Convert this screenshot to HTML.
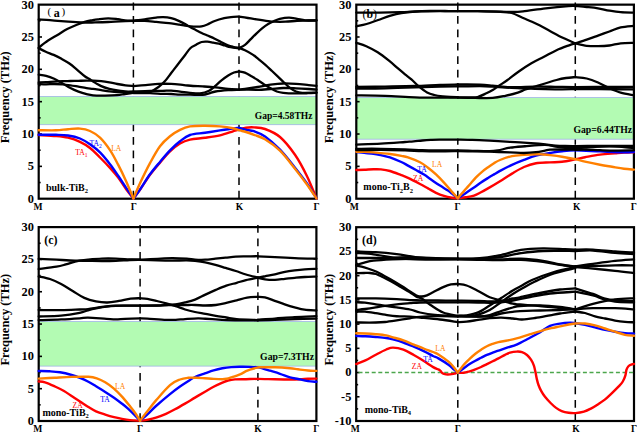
<!DOCTYPE html><html><head><meta charset="utf-8"><style>html,body{margin:0;padding:0;background:#fff;width:637px;height:432px;overflow:hidden}svg{display:block}text{font-family:"Liberation Serif",serif}</style></head><body>
<svg xmlns="http://www.w3.org/2000/svg" width="637" height="432" viewBox="0 0 637 432">
<rect width="637" height="432" fill="#fff"/>
<line x1="133.4" y1="2.55" x2="133.4" y2="198.7" stroke="#000" stroke-width="1.5" stroke-dasharray="7.7 5.75"/>
<line x1="239.0" y1="2.55" x2="239.0" y2="198.7" stroke="#000" stroke-width="1.5" stroke-dasharray="7.7 5.75"/>
<rect x="38.7" y="96.4" width="277.8" height="28.299999999999997" fill="#b3fbb3" stroke="#a0b4e6" stroke-width="0.8"/>
<rect x="38.7" y="4.65" width="277.80" height="194.05" fill="none" stroke="#000" stroke-width="2.2"/>
<line x1="38.7" y1="182.53" x2="40.65" y2="182.53" stroke="#000" stroke-width="1.6"/>
<line x1="38.7" y1="166.36" x2="42.00" y2="166.36" stroke="#000" stroke-width="1.6"/>
<line x1="38.7" y1="150.19" x2="40.65" y2="150.19" stroke="#000" stroke-width="1.6"/>
<line x1="38.7" y1="134.02" x2="42.00" y2="134.02" stroke="#000" stroke-width="1.6"/>
<line x1="38.7" y1="117.85" x2="40.65" y2="117.85" stroke="#000" stroke-width="1.6"/>
<line x1="38.7" y1="101.67" x2="42.00" y2="101.67" stroke="#000" stroke-width="1.6"/>
<line x1="38.7" y1="85.50" x2="40.65" y2="85.50" stroke="#000" stroke-width="1.6"/>
<line x1="38.7" y1="69.33" x2="42.00" y2="69.33" stroke="#000" stroke-width="1.6"/>
<line x1="38.7" y1="53.16" x2="40.65" y2="53.16" stroke="#000" stroke-width="1.6"/>
<line x1="38.7" y1="36.99" x2="42.00" y2="36.99" stroke="#000" stroke-width="1.6"/>
<line x1="38.7" y1="20.82" x2="40.65" y2="20.82" stroke="#000" stroke-width="1.6"/>
<path d="M38.70,135.00 C41.58,135.17 51.12,135.55 56.00,136.00 C60.88,136.45 64.00,136.72 68.00,137.70 C72.00,138.68 76.33,140.18 80.00,141.90 C83.67,143.62 86.67,145.40 90.00,148.00 C93.33,150.60 96.67,154.18 100.00,157.50 C103.33,160.82 107.00,164.60 110.00,167.90 C113.00,171.20 115.33,173.78 118.00,177.30 C120.67,180.82 123.43,185.47 126.00,189.00 C128.57,192.53 132.17,196.92 133.40,198.50" fill="none" stroke="#ff0000" stroke-width="2.4" stroke-linecap="round" stroke-linejoin="round"/>
<path d="M133.40,198.50 C134.50,197.05 137.23,193.75 140.00,189.80 C142.77,185.85 146.67,179.33 150.00,174.80 C153.33,170.27 156.67,166.50 160.00,162.60 C163.33,158.70 166.67,154.58 170.00,151.40 C173.33,148.22 176.67,145.47 180.00,143.50 C183.33,141.53 185.83,140.55 190.00,139.60 C194.17,138.65 200.00,138.52 205.00,137.80 C210.00,137.08 215.33,136.38 220.00,135.30 C224.67,134.22 229.83,132.27 233.00,131.30 C236.17,130.33 236.83,130.10 239.00,129.50 C241.17,128.90 243.50,128.05 246.00,127.70 C248.50,127.35 250.83,127.18 254.00,127.40 C257.17,127.62 260.67,127.40 265.00,129.00 C269.33,130.60 275.00,132.70 280.00,137.00 C285.00,141.30 290.50,148.27 295.00,154.80 C299.50,161.33 303.42,168.92 307.00,176.20 C310.58,183.48 314.92,194.78 316.50,198.50" fill="none" stroke="#ff0000" stroke-width="2.4" stroke-linecap="round" stroke-linejoin="round"/>
<path d="M38.70,134.80 C41.58,134.80 51.12,134.68 56.00,134.80 C60.88,134.92 64.00,134.88 68.00,135.50 C72.00,136.12 76.33,137.03 80.00,138.50 C83.67,139.97 86.67,141.98 90.00,144.30 C93.33,146.62 96.67,149.08 100.00,152.40 C103.33,155.72 107.00,160.35 110.00,164.20 C113.00,168.05 115.33,171.58 118.00,175.50 C120.67,179.42 123.43,183.87 126.00,187.70 C128.57,191.53 132.17,196.70 133.40,198.50" fill="none" stroke="#0000ff" stroke-width="2.4" stroke-linecap="round" stroke-linejoin="round"/>
<path d="M133.40,198.50 C134.50,197.02 137.23,193.63 140.00,189.60 C142.77,185.57 146.67,178.92 150.00,174.30 C153.33,169.68 156.67,165.88 160.00,161.90 C163.33,157.92 166.67,153.83 170.00,150.40 C173.33,146.97 176.67,143.87 180.00,141.30 C183.33,138.73 185.83,136.42 190.00,135.00 C194.17,133.58 200.00,133.57 205.00,132.80 C210.00,132.03 215.33,131.12 220.00,130.40 C224.67,129.68 229.83,128.90 233.00,128.50 C236.17,128.10 236.83,127.78 239.00,128.00 C241.17,128.22 243.50,129.27 246.00,129.80 C248.50,130.33 250.83,130.10 254.00,131.20 C257.17,132.30 260.67,133.32 265.00,136.40 C269.33,139.48 275.00,144.48 280.00,149.70 C285.00,154.92 290.50,162.07 295.00,167.70 C299.50,173.33 303.42,178.37 307.00,183.50 C310.58,188.63 314.92,196.00 316.50,198.50" fill="none" stroke="#0000ff" stroke-width="2.4" stroke-linecap="round" stroke-linejoin="round"/>
<path d="M38.70,130.20 C41.58,130.22 51.12,130.47 56.00,130.30 C60.88,130.13 64.00,129.48 68.00,129.20 C72.00,128.92 76.33,128.30 80.00,128.60 C83.67,128.90 86.67,129.50 90.00,131.00 C93.33,132.50 96.67,134.42 100.00,137.60 C103.33,140.78 107.00,145.63 110.00,150.10 C113.00,154.57 115.33,159.27 118.00,164.40 C120.67,169.53 123.43,175.22 126.00,180.90 C128.57,186.58 132.17,195.57 133.40,198.50" fill="none" stroke="#ff8000" stroke-width="2.4" stroke-linecap="round" stroke-linejoin="round"/>
<path d="M133.40,198.50 C134.50,195.95 137.23,189.10 140.00,183.20 C142.77,177.30 146.67,169.27 150.00,163.10 C153.33,156.93 156.67,150.68 160.00,146.20 C163.33,141.72 166.67,138.93 170.00,136.20 C173.33,133.47 176.67,131.43 180.00,129.80 C183.33,128.17 185.83,127.07 190.00,126.40 C194.17,125.73 200.00,125.80 205.00,125.80 C210.00,125.80 215.33,126.00 220.00,126.40 C224.67,126.80 229.83,127.57 233.00,128.20 C236.17,128.83 236.83,129.57 239.00,130.20 C241.17,130.83 243.50,131.23 246.00,132.00 C248.50,132.77 250.83,133.58 254.00,134.80 C257.17,136.02 260.67,136.65 265.00,139.30 C269.33,141.95 275.00,145.80 280.00,150.70 C285.00,155.60 290.50,163.07 295.00,168.70 C299.50,174.33 303.42,179.53 307.00,184.50 C310.58,189.47 314.92,196.17 316.50,198.50" fill="none" stroke="#ff8000" stroke-width="2.4" stroke-linecap="round" stroke-linejoin="round"/>
<path d="M38.70,47.60 C40.20,46.47 44.57,42.92 47.70,40.80 C50.83,38.68 54.25,36.85 57.50,34.90 C60.75,32.95 63.97,30.80 67.20,29.10 C70.43,27.40 73.98,25.90 76.90,24.70 C79.82,23.50 82.18,22.63 84.70,21.90 C87.22,21.17 89.78,20.73 92.00,20.30 C94.22,19.87 95.30,19.63 98.00,19.30 C100.70,18.97 104.87,18.32 108.20,18.30 C111.53,18.28 115.20,18.87 118.00,19.20 C120.80,19.53 122.43,20.03 125.00,20.30 C127.57,20.57 132.00,20.72 133.40,20.80" fill="none" stroke="#000" stroke-width="2.3" stroke-linecap="round" stroke-linejoin="round"/>
<path d="M38.70,19.50 C40.58,19.62 46.25,19.93 50.00,20.20 C53.75,20.47 57.40,20.82 61.20,21.10 C65.00,21.38 68.95,21.65 72.80,21.90 C76.65,22.15 80.60,22.52 84.30,22.60 C88.00,22.68 91.05,22.50 95.00,22.40 C98.95,22.30 103.83,22.17 108.00,22.00 C112.17,21.83 115.77,21.60 120.00,21.40 C124.23,21.20 131.17,20.90 133.40,20.80" fill="none" stroke="#000" stroke-width="2.3" stroke-linecap="round" stroke-linejoin="round"/>
<path d="M38.70,48.20 C39.88,48.80 43.30,50.68 45.80,51.80 C48.30,52.92 51.08,53.73 53.70,54.90 C56.32,56.07 58.88,57.37 61.50,58.80 C64.12,60.23 66.78,61.67 69.40,63.50 C72.02,65.33 74.58,67.63 77.20,69.80 C79.82,71.97 83.13,75.00 85.10,76.50 C87.07,78.00 87.67,77.95 89.00,78.80 C90.33,79.65 91.73,80.73 93.10,81.60 C94.47,82.47 95.85,83.25 97.20,84.00 C98.55,84.75 99.18,85.28 101.20,86.10 C103.22,86.92 106.60,88.17 109.30,88.90 C112.00,89.63 114.70,90.10 117.40,90.50 C120.10,90.90 122.83,91.10 125.50,91.30 C128.17,91.50 132.08,91.63 133.40,91.70" fill="none" stroke="#000" stroke-width="2.3" stroke-linecap="round" stroke-linejoin="round"/>
<path d="M38.70,74.70 C39.93,74.90 43.52,75.22 46.10,75.90 C48.68,76.58 51.50,77.58 54.20,78.80 C56.90,80.02 59.60,81.65 62.30,83.20 C65.00,84.75 67.70,86.68 70.40,88.10 C73.10,89.52 75.80,90.68 78.50,91.70 C81.20,92.72 84.18,93.58 86.60,94.20 C89.02,94.82 89.93,95.17 93.00,95.40 C96.07,95.63 101.00,95.63 105.00,95.60 C109.00,95.57 113.67,95.47 117.00,95.20 C120.33,94.93 122.27,94.40 125.00,94.00 C127.73,93.60 132.00,93.00 133.40,92.80" fill="none" stroke="#000" stroke-width="2.3" stroke-linecap="round" stroke-linejoin="round"/>
<path d="M38.70,82.40 C39.93,82.37 43.52,82.33 46.10,82.20 C48.68,82.07 51.50,81.77 54.20,81.60 C56.90,81.43 59.60,81.30 62.30,81.20 C65.00,81.10 67.70,81.07 70.40,81.00 C73.10,80.93 75.80,80.87 78.50,80.80 C81.20,80.73 84.17,80.63 86.60,80.60 C89.03,80.57 90.67,80.50 93.10,80.60 C95.53,80.70 98.50,80.90 101.20,81.20 C103.90,81.50 106.60,81.93 109.30,82.40 C112.00,82.87 114.70,83.52 117.40,84.00 C120.10,84.48 122.83,84.95 125.50,85.30 C128.17,85.65 132.08,85.97 133.40,86.10" fill="none" stroke="#000" stroke-width="2.3" stroke-linecap="round" stroke-linejoin="round"/>
<path d="M38.70,84.00 C39.93,84.05 43.52,84.30 46.10,84.30 C48.68,84.30 51.50,84.00 54.20,84.00 C56.90,84.00 59.60,84.08 62.30,84.30 C65.00,84.52 67.70,84.90 70.40,85.30 C73.10,85.70 75.80,86.23 78.50,86.70 C81.20,87.17 84.17,87.73 86.60,88.10 C89.03,88.47 90.67,88.57 93.10,88.90 C95.53,89.23 98.50,89.70 101.20,90.10 C103.90,90.50 106.60,90.97 109.30,91.30 C112.00,91.63 114.70,91.97 117.40,92.10 C120.10,92.23 122.83,92.15 125.50,92.10 C128.17,92.05 132.08,91.85 133.40,91.80" fill="none" stroke="#000" stroke-width="2.3" stroke-linecap="round" stroke-linejoin="round"/>
<path d="M133.40,20.60 C135.27,20.40 140.80,19.90 144.60,19.40 C148.40,18.90 153.12,17.98 156.20,17.60 C159.28,17.22 160.60,17.00 163.10,17.10 C165.60,17.20 168.50,17.53 171.20,18.20 C173.90,18.87 176.98,20.13 179.30,21.10 C181.62,22.07 183.17,22.93 185.10,24.00 C187.03,25.07 189.12,26.50 190.90,27.50 C192.68,28.50 194.02,29.08 195.80,30.00 C197.58,30.92 199.67,32.08 201.60,33.00 C203.53,33.92 205.22,34.55 207.40,35.50 C209.58,36.45 212.43,37.62 214.70,38.70 C216.97,39.78 218.80,40.90 221.00,42.00 C223.20,43.10 225.90,44.50 227.90,45.30 C229.90,46.10 231.15,46.37 233.00,46.80 C234.85,47.23 238.00,47.72 239.00,47.90" fill="none" stroke="#000" stroke-width="2.3" stroke-linecap="round" stroke-linejoin="round"/>
<path d="M133.40,20.80 C135.27,20.80 140.80,20.62 144.60,20.80 C148.40,20.98 153.12,21.60 156.20,21.90 C159.28,22.20 160.60,22.35 163.10,22.60 C165.60,22.85 168.50,23.07 171.20,23.40 C173.90,23.73 176.98,24.23 179.30,24.60 C181.62,24.97 183.17,25.30 185.10,25.60 C187.03,25.90 189.08,26.22 190.90,26.40 C192.72,26.58 194.22,26.70 196.00,26.70 C197.78,26.70 199.70,26.77 201.60,26.40 C203.50,26.03 205.22,25.40 207.40,24.50 C209.58,23.60 211.90,22.05 214.70,21.00 C217.50,19.95 221.48,18.85 224.20,18.20 C226.92,17.55 228.53,17.37 231.00,17.10 C233.47,16.83 237.67,16.68 239.00,16.60" fill="none" stroke="#000" stroke-width="2.3" stroke-linecap="round" stroke-linejoin="round"/>
<path d="M133.40,92.50 C135.33,92.52 142.30,92.63 145.00,92.60 C147.70,92.57 147.35,93.23 149.60,92.30 C151.85,91.37 155.97,88.83 158.50,87.00 C161.03,85.17 162.68,83.63 164.80,81.30 C166.92,78.97 169.07,75.77 171.20,73.00 C173.33,70.23 175.47,67.45 177.60,64.70 C179.73,61.95 181.88,59.25 184.00,56.50 C186.12,53.75 188.33,50.13 190.30,48.20 C192.27,46.27 193.92,45.93 195.80,44.90 C197.68,43.87 199.67,42.53 201.60,42.00 C203.53,41.47 205.47,41.60 207.40,41.70 C209.33,41.80 211.27,42.27 213.20,42.60 C215.13,42.93 217.07,43.22 219.00,43.70 C220.93,44.18 222.87,44.92 224.80,45.50 C226.73,46.08 228.23,46.72 230.60,47.20 C232.97,47.68 237.60,48.20 239.00,48.40" fill="none" stroke="#000" stroke-width="2.3" stroke-linecap="round" stroke-linejoin="round"/>
<path d="M133.40,86.10 C135.45,85.93 141.52,85.47 145.70,85.10 C149.88,84.73 154.25,84.10 158.50,83.90 C162.75,83.70 166.95,83.70 171.20,83.90 C175.45,84.10 180.37,84.75 184.00,85.10 C187.63,85.45 189.88,85.78 193.00,86.00 C196.12,86.22 198.95,86.18 202.70,86.40 C206.45,86.62 211.25,86.87 215.50,87.30 C219.75,87.73 224.28,88.62 228.20,89.00 C232.12,89.38 237.20,89.50 239.00,89.60" fill="none" stroke="#000" stroke-width="2.3" stroke-linecap="round" stroke-linejoin="round"/>
<path d="M133.40,91.50 C136.17,91.40 145.17,91.00 150.00,90.90 C154.83,90.80 158.87,90.95 162.40,90.90 C165.93,90.85 168.27,90.47 171.20,90.60 C174.13,90.73 176.87,91.33 180.00,91.70 C183.13,92.07 186.67,92.52 190.00,92.80 C193.33,93.08 196.82,93.73 200.00,93.40 C203.18,93.07 206.60,92.00 209.10,90.80 C211.60,89.60 212.88,87.97 215.00,86.20 C217.12,84.43 219.60,81.98 221.80,80.20 C224.00,78.42 226.17,76.78 228.20,75.50 C230.23,74.22 232.20,73.18 234.00,72.50 C235.80,71.82 238.17,71.58 239.00,71.40" fill="none" stroke="#000" stroke-width="2.3" stroke-linecap="round" stroke-linejoin="round"/>
<path d="M133.40,93.00 C136.17,93.03 145.17,93.07 150.00,93.20 C154.83,93.33 158.87,93.67 162.40,93.80 C165.93,93.93 168.27,93.87 171.20,94.00 C174.13,94.13 176.87,94.48 180.00,94.60 C183.13,94.72 186.22,94.65 190.00,94.70 C193.78,94.75 199.52,95.12 202.70,94.90 C205.88,94.68 206.97,93.97 209.10,93.40 C211.23,92.83 212.32,92.03 215.50,91.50 C218.68,90.97 224.28,90.48 228.20,90.20 C232.12,89.92 237.20,89.87 239.00,89.80" fill="none" stroke="#000" stroke-width="2.3" stroke-linecap="round" stroke-linejoin="round"/>
<path d="M239.00,16.60 C240.48,16.83 244.97,17.53 247.90,18.00 C250.83,18.47 253.22,18.88 256.60,19.40 C259.98,19.92 265.30,20.72 268.20,21.10 C271.10,21.48 271.10,21.60 274.00,21.70 C276.90,21.80 281.75,21.85 285.60,21.70 C289.45,21.55 293.25,21.00 297.10,20.80 C300.95,20.60 305.47,20.58 308.70,20.50 C311.93,20.42 315.20,20.33 316.50,20.30" fill="none" stroke="#000" stroke-width="2.3" stroke-linecap="round" stroke-linejoin="round"/>
<path d="M239.00,48.20 C240.00,47.65 243.03,46.42 245.00,44.90 C246.97,43.38 248.87,41.03 250.80,39.10 C252.73,37.17 254.67,35.13 256.60,33.30 C258.53,31.47 260.47,29.65 262.40,28.10 C264.33,26.55 266.27,25.17 268.20,24.00 C270.13,22.83 272.07,21.97 274.00,21.10 C275.93,20.23 277.30,19.38 279.80,18.80 C282.30,18.22 286.12,17.60 289.00,17.60 C291.88,17.60 294.38,18.35 297.10,18.80 C299.82,19.25 302.07,20.02 305.30,20.30 C308.53,20.58 314.63,20.47 316.50,20.50" fill="none" stroke="#000" stroke-width="2.3" stroke-linecap="round" stroke-linejoin="round"/>
<path d="M239.00,48.00 C240.00,48.38 242.72,49.20 245.00,50.30 C247.28,51.40 250.53,53.20 252.70,54.60 C254.87,56.00 255.88,57.00 258.00,58.70 C260.12,60.40 263.07,62.75 265.40,64.80 C267.73,66.85 269.87,68.98 272.00,71.00 C274.13,73.02 276.20,74.98 278.20,76.90 C280.20,78.82 282.10,80.72 284.00,82.50 C285.90,84.28 287.60,86.10 289.60,87.60 C291.60,89.10 293.88,90.63 296.00,91.50 C298.12,92.37 298.88,92.62 302.30,92.80 C305.72,92.98 314.13,92.63 316.50,92.60" fill="none" stroke="#000" stroke-width="2.3" stroke-linecap="round" stroke-linejoin="round"/>
<path d="M239.00,71.40 C239.97,71.60 242.73,71.78 244.80,72.60 C246.87,73.42 249.25,75.07 251.40,76.30 C253.55,77.53 255.58,78.63 257.70,80.00 C259.82,81.37 261.97,83.12 264.10,84.50 C266.23,85.88 268.38,87.13 270.50,88.30 C272.62,89.47 274.68,90.75 276.80,91.50 C278.92,92.25 280.00,92.48 283.20,92.80 C286.40,93.12 291.87,93.33 296.00,93.40 C300.13,93.47 304.58,93.30 308.00,93.20 C311.42,93.10 315.08,92.87 316.50,92.80" fill="none" stroke="#000" stroke-width="2.3" stroke-linecap="round" stroke-linejoin="round"/>
<path d="M239.00,89.80 C240.00,89.67 241.88,89.47 245.00,89.00 C248.12,88.53 253.45,87.72 257.70,87.00 C261.95,86.28 266.25,85.28 270.50,84.70 C274.75,84.12 278.95,83.63 283.20,83.50 C287.45,83.37 291.75,83.63 296.00,83.90 C300.25,84.17 305.28,84.78 308.70,85.10 C312.12,85.42 315.20,85.68 316.50,85.80" fill="none" stroke="#000" stroke-width="2.3" stroke-linecap="round" stroke-linejoin="round"/>
<path d="M239.00,89.60 C240.00,89.60 241.88,89.57 245.00,89.60 C248.12,89.63 253.45,89.90 257.70,89.80 C261.95,89.70 266.25,89.30 270.50,89.00 C274.75,88.70 278.95,88.12 283.20,88.00 C287.45,87.88 291.75,88.13 296.00,88.30 C300.25,88.47 305.28,88.78 308.70,89.00 C312.12,89.22 315.20,89.50 316.50,89.60" fill="none" stroke="#000" stroke-width="2.3" stroke-linecap="round" stroke-linejoin="round"/>
<text x="33.90" y="202.60" font-size="12.4" font-weight="bold" text-anchor="end">0</text>
<text x="33.90" y="170.26" font-size="12.4" font-weight="bold" text-anchor="end">5</text>
<text x="33.90" y="137.92" font-size="12.4" font-weight="bold" text-anchor="end">10</text>
<text x="33.90" y="105.58" font-size="12.4" font-weight="bold" text-anchor="end">15</text>
<text x="33.90" y="73.23" font-size="12.4" font-weight="bold" text-anchor="end">20</text>
<text x="33.90" y="40.89" font-size="12.4" font-weight="bold" text-anchor="end">25</text>
<text x="33.90" y="8.55" font-size="12.4" font-weight="bold" text-anchor="end">30</text>
<text x="37.95" y="209.60" font-size="9.6" font-weight="bold" text-anchor="middle">M</text>
<text x="133.80" y="209.60" font-size="9.6" font-weight="bold" text-anchor="middle">Γ</text>
<text x="239.50" y="209.60" font-size="9.6" font-weight="bold" text-anchor="middle">K</text>
<text x="316.50" y="209.60" font-size="9.6" font-weight="bold" text-anchor="middle">Γ</text>
<text transform="translate(9.2,97.27) rotate(-90)" font-size="12.5" font-weight="bold" text-anchor="middle">Frequency (THz)</text>
<line x1="457.8" y1="2.55" x2="457.8" y2="198.7" stroke="#000" stroke-width="1.5" stroke-dasharray="7.7 5.75"/>
<line x1="575.3" y1="2.55" x2="575.3" y2="198.7" stroke="#000" stroke-width="1.5" stroke-dasharray="7.7 5.75"/>
<rect x="356.3" y="97.6" width="277.59999999999997" height="41.599999999999994" fill="#b3fbb3" stroke="#a0b4e6" stroke-width="0.8"/>
<rect x="356.3" y="4.65" width="277.60" height="194.05" fill="none" stroke="#000" stroke-width="2.2"/>
<line x1="356.3" y1="182.53" x2="358.25" y2="182.53" stroke="#000" stroke-width="1.6"/>
<line x1="356.3" y1="166.36" x2="359.60" y2="166.36" stroke="#000" stroke-width="1.6"/>
<line x1="356.3" y1="150.19" x2="358.25" y2="150.19" stroke="#000" stroke-width="1.6"/>
<line x1="356.3" y1="134.02" x2="359.60" y2="134.02" stroke="#000" stroke-width="1.6"/>
<line x1="356.3" y1="117.85" x2="358.25" y2="117.85" stroke="#000" stroke-width="1.6"/>
<line x1="356.3" y1="101.67" x2="359.60" y2="101.67" stroke="#000" stroke-width="1.6"/>
<line x1="356.3" y1="85.50" x2="358.25" y2="85.50" stroke="#000" stroke-width="1.6"/>
<line x1="356.3" y1="69.33" x2="359.60" y2="69.33" stroke="#000" stroke-width="1.6"/>
<line x1="356.3" y1="53.16" x2="358.25" y2="53.16" stroke="#000" stroke-width="1.6"/>
<line x1="356.3" y1="36.99" x2="359.60" y2="36.99" stroke="#000" stroke-width="1.6"/>
<line x1="356.3" y1="20.82" x2="358.25" y2="20.82" stroke="#000" stroke-width="1.6"/>
<path d="M356.30,170.00 C357.63,169.97 361.43,169.92 364.30,169.80 C367.17,169.68 370.73,169.37 373.50,169.30 C376.27,169.23 378.15,169.12 380.90,169.40 C383.65,169.68 386.60,170.03 390.00,171.00 C393.40,171.97 398.30,174.05 401.30,175.20 C404.30,176.35 404.88,176.43 408.00,177.90 C411.12,179.37 416.67,182.25 420.00,184.00 C423.33,185.75 425.33,186.93 428.00,188.40 C430.67,189.87 433.33,191.55 436.00,192.80 C438.67,194.05 441.33,195.08 444.00,195.90 C446.67,196.72 449.70,197.30 452.00,197.70 C454.30,198.10 456.83,198.20 457.80,198.30" fill="none" stroke="#ff0000" stroke-width="2.4" stroke-linecap="round" stroke-linejoin="round"/>
<path d="M457.80,198.30 C459.17,198.13 463.30,197.75 466.00,197.30 C468.70,196.85 471.50,196.43 474.00,195.60 C476.50,194.77 478.67,193.50 481.00,192.30 C483.33,191.10 484.83,190.25 488.00,188.40 C491.17,186.55 496.00,183.67 500.00,181.20 C504.00,178.73 508.00,175.97 512.00,173.60 C516.00,171.23 520.00,168.72 524.00,167.00 C528.00,165.28 531.67,164.07 536.00,163.30 C540.33,162.53 545.67,162.65 550.00,162.40 C554.33,162.15 557.78,162.32 562.00,161.80 C566.22,161.28 571.47,160.05 575.30,159.30 C579.13,158.55 580.88,158.08 585.00,157.30 C589.12,156.52 595.00,155.27 600.00,154.60 C605.00,153.93 611.00,153.63 615.00,153.30 C619.00,152.97 620.85,152.78 624.00,152.60 C627.15,152.42 632.25,152.27 633.90,152.20" fill="none" stroke="#ff0000" stroke-width="2.4" stroke-linecap="round" stroke-linejoin="round"/>
<path d="M356.30,152.00 C357.63,152.15 361.43,152.60 364.30,152.90 C367.17,153.20 370.73,153.42 373.50,153.80 C376.27,154.18 378.15,154.60 380.90,155.20 C383.65,155.80 386.60,156.27 390.00,157.40 C393.40,158.53 398.30,160.63 401.30,162.00 C404.30,163.37 405.55,164.27 408.00,165.60 C410.45,166.93 413.33,168.50 416.00,170.00 C418.67,171.50 421.33,172.90 424.00,174.60 C426.67,176.30 429.33,178.37 432.00,180.20 C434.67,182.03 437.33,183.87 440.00,185.60 C442.67,187.33 446.00,189.27 448.00,190.60 C450.00,191.93 450.37,192.32 452.00,193.60 C453.63,194.88 456.83,197.52 457.80,198.30" fill="none" stroke="#0000ff" stroke-width="2.4" stroke-linecap="round" stroke-linejoin="round"/>
<path d="M457.80,198.30 C459.17,197.40 463.30,194.68 466.00,192.90 C468.70,191.12 471.50,189.33 474.00,187.60 C476.50,185.87 478.67,184.10 481.00,182.50 C483.33,180.90 485.83,179.35 488.00,178.00 C490.17,176.65 492.00,175.58 494.00,174.40 C496.00,173.22 497.00,172.50 500.00,170.90 C503.00,169.30 508.00,166.63 512.00,164.80 C516.00,162.97 520.00,161.42 524.00,159.90 C528.00,158.38 531.67,156.85 536.00,155.70 C540.33,154.55 545.67,153.75 550.00,153.00 C554.33,152.25 557.78,151.63 562.00,151.20 C566.22,150.77 568.97,150.37 575.30,150.40 C581.63,150.43 591.88,151.08 600.00,151.40 C608.12,151.72 618.35,152.20 624.00,152.30 C629.65,152.40 632.25,152.05 633.90,152.00" fill="none" stroke="#0000ff" stroke-width="2.4" stroke-linecap="round" stroke-linejoin="round"/>
<path d="M356.30,151.70 C357.63,151.73 361.43,151.78 364.30,151.90 C367.17,152.02 370.73,152.20 373.50,152.40 C376.27,152.60 378.15,152.83 380.90,153.10 C383.65,153.37 386.60,153.53 390.00,154.00 C393.40,154.47 398.30,155.33 401.30,155.90 C404.30,156.47 404.88,156.33 408.00,157.40 C411.12,158.47 416.67,160.58 420.00,162.30 C423.33,164.02 425.33,165.68 428.00,167.70 C430.67,169.72 433.33,171.92 436.00,174.40 C438.67,176.88 441.33,179.68 444.00,182.60 C446.67,185.52 449.70,189.28 452.00,191.90 C454.30,194.52 456.83,197.23 457.80,198.30" fill="none" stroke="#ff8000" stroke-width="2.4" stroke-linecap="round" stroke-linejoin="round"/>
<path d="M457.80,198.30 C458.50,197.47 460.63,194.88 462.00,193.30 C463.37,191.72 464.67,190.32 466.00,188.80 C467.33,187.28 468.33,186.10 470.00,184.20 C471.67,182.30 474.00,179.47 476.00,177.40 C478.00,175.33 480.00,173.48 482.00,171.80 C484.00,170.12 486.00,168.73 488.00,167.30 C490.00,165.87 492.00,164.42 494.00,163.20 C496.00,161.98 497.00,161.18 500.00,160.00 C503.00,158.82 508.00,156.95 512.00,156.10 C516.00,155.25 520.00,155.22 524.00,154.90 C528.00,154.58 532.83,154.27 536.00,154.20 C539.17,154.13 540.67,154.35 543.00,154.50 C545.33,154.65 546.83,154.73 550.00,155.10 C553.17,155.47 557.78,156.02 562.00,156.70 C566.22,157.38 571.47,158.37 575.30,159.20 C579.13,160.03 580.88,160.77 585.00,161.70 C589.12,162.63 595.50,163.95 600.00,164.80 C604.50,165.65 608.00,166.15 612.00,166.80 C616.00,167.45 620.35,168.23 624.00,168.70 C627.65,169.17 632.25,169.45 633.90,169.60" fill="none" stroke="#ff8000" stroke-width="2.4" stroke-linecap="round" stroke-linejoin="round"/>
<path d="M356.30,12.60 C360.25,12.60 372.72,12.67 380.00,12.60 C387.28,12.53 393.33,12.40 400.00,12.20 C406.67,12.00 413.33,11.58 420.00,11.40 C426.67,11.22 433.70,11.15 440.00,11.10 C446.30,11.05 454.83,11.10 457.80,11.10" fill="none" stroke="#000" stroke-width="2.3" stroke-linecap="round" stroke-linejoin="round"/>
<path d="M356.30,26.30 C358.02,25.92 362.95,25.05 366.60,24.00 C370.25,22.95 374.33,21.35 378.20,20.00 C382.07,18.65 385.93,17.07 389.80,15.90 C393.67,14.73 397.20,13.73 401.40,13.00 C405.60,12.27 410.23,11.85 415.00,11.50 C419.77,11.15 425.00,10.98 430.00,10.90 C435.00,10.82 440.37,10.97 445.00,11.00 C449.63,11.03 455.67,11.08 457.80,11.10" fill="none" stroke="#000" stroke-width="2.3" stroke-linecap="round" stroke-linejoin="round"/>
<path d="M356.30,42.80 C357.97,43.37 362.73,44.62 366.30,46.20 C369.87,47.78 373.92,49.88 377.70,52.30 C381.48,54.72 385.57,57.97 389.00,60.70 C392.43,63.43 395.63,66.43 398.30,68.70 C400.97,70.97 402.82,72.52 405.00,74.30 C407.18,76.08 409.15,77.43 411.40,79.40 C413.65,81.37 415.88,83.93 418.50,86.10 C421.12,88.27 424.45,90.92 427.10,92.40 C429.75,93.88 431.78,94.33 434.40,95.00 C437.02,95.67 440.20,96.07 442.80,96.40 C445.40,96.73 447.50,96.87 450.00,97.00 C452.50,97.13 456.50,97.17 457.80,97.20" fill="none" stroke="#000" stroke-width="2.3" stroke-linecap="round" stroke-linejoin="round"/>
<path d="M356.30,87.00 C361.08,86.93 375.22,86.77 385.00,86.60 C394.78,86.43 405.83,86.30 415.00,86.00 C424.17,85.70 432.87,85.05 440.00,84.80 C447.13,84.55 454.83,84.55 457.80,84.50" fill="none" stroke="#000" stroke-width="2.3" stroke-linecap="round" stroke-linejoin="round"/>
<path d="M356.30,88.60 C361.08,88.55 375.22,88.50 385.00,88.30 C394.78,88.10 405.83,87.68 415.00,87.40 C424.17,87.12 432.87,86.77 440.00,86.60 C447.13,86.43 454.83,86.43 457.80,86.40" fill="none" stroke="#000" stroke-width="2.3" stroke-linecap="round" stroke-linejoin="round"/>
<path d="M356.30,95.40 C361.08,95.48 375.22,95.58 385.00,95.90 C394.78,96.22 405.83,97.00 415.00,97.30 C424.17,97.60 432.87,97.65 440.00,97.70 C447.13,97.75 454.83,97.62 457.80,97.60" fill="none" stroke="#000" stroke-width="2.3" stroke-linecap="round" stroke-linejoin="round"/>
<path d="M457.80,11.10 C461.12,11.10 470.60,11.02 477.70,11.10 C484.80,11.18 494.73,11.45 500.40,11.60 C506.07,11.75 507.93,12.03 511.70,12.00 C515.47,11.97 517.33,12.02 523.00,11.40 C528.67,10.78 538.13,9.18 545.70,8.30 C553.27,7.42 563.47,6.48 568.40,6.10 C573.33,5.72 574.15,6.02 575.30,6.00" fill="none" stroke="#000" stroke-width="2.3" stroke-linecap="round" stroke-linejoin="round"/>
<path d="M457.80,11.10 C461.12,11.12 470.60,11.07 477.70,11.20 C484.80,11.33 494.73,11.60 500.40,11.90 C506.07,12.20 508.02,12.02 511.70,13.00 C515.38,13.98 519.12,16.33 522.50,17.80 C525.88,19.27 529.08,20.50 532.00,21.80 C534.92,23.10 536.95,24.03 540.00,25.60 C543.05,27.17 546.50,29.17 550.30,31.20 C554.10,33.23 558.63,35.78 562.80,37.80 C566.97,39.82 573.22,42.38 575.30,43.30" fill="none" stroke="#000" stroke-width="2.3" stroke-linecap="round" stroke-linejoin="round"/>
<path d="M457.80,97.40 C459.83,97.42 466.70,97.57 470.00,97.50 C473.30,97.43 474.87,97.70 477.60,97.00 C480.33,96.30 483.88,94.45 486.40,93.30 C488.92,92.15 490.60,91.37 492.70,90.10 C494.80,88.83 496.53,87.38 499.00,85.70 C501.47,84.02 504.20,82.37 507.50,80.00 C510.80,77.63 514.82,74.28 518.80,71.50 C522.78,68.72 527.20,65.75 531.40,63.30 C535.60,60.85 539.82,58.98 544.00,56.80 C548.18,54.62 552.32,52.12 556.50,50.20 C560.68,48.28 565.97,46.45 569.10,45.30 C572.23,44.15 574.27,43.63 575.30,43.30" fill="none" stroke="#000" stroke-width="2.3" stroke-linecap="round" stroke-linejoin="round"/>
<path d="M457.80,84.50 C461.50,84.52 474.18,84.42 480.00,84.60 C485.82,84.78 488.48,85.22 492.70,85.60 C496.92,85.98 501.12,86.63 505.30,86.90 C509.48,87.17 512.85,87.25 517.80,87.20 C522.75,87.15 528.80,86.67 535.00,86.60 C541.20,86.53 548.28,86.70 555.00,86.80 C561.72,86.90 571.92,87.13 575.30,87.20" fill="none" stroke="#000" stroke-width="2.3" stroke-linecap="round" stroke-linejoin="round"/>
<path d="M457.80,86.40 C461.50,86.35 474.18,86.07 480.00,86.10 C485.82,86.13 488.48,86.35 492.70,86.60 C496.92,86.85 501.12,87.37 505.30,87.60 C509.48,87.83 512.85,87.78 517.80,88.00 C522.75,88.22 528.80,88.68 535.00,88.90 C541.20,89.12 548.28,89.28 555.00,89.30 C561.72,89.32 571.92,89.05 575.30,89.00" fill="none" stroke="#000" stroke-width="2.3" stroke-linecap="round" stroke-linejoin="round"/>
<path d="M457.80,97.60 C460.67,97.65 469.18,97.85 475.00,97.90 C480.82,97.95 487.65,98.25 492.70,97.90 C497.75,97.55 501.12,96.68 505.30,95.80 C509.48,94.92 514.45,93.65 517.80,92.60 C521.15,91.55 522.53,90.52 525.40,89.50 C528.27,88.48 531.73,87.50 535.00,86.50 C538.27,85.50 541.42,84.58 545.00,83.50 C548.58,82.42 553.00,80.92 556.50,80.00 C560.00,79.08 562.87,78.48 566.00,78.00 C569.13,77.52 573.75,77.25 575.30,77.10" fill="none" stroke="#000" stroke-width="2.3" stroke-linecap="round" stroke-linejoin="round"/>
<path d="M575.30,6.00 C577.20,6.17 582.92,6.62 586.70,7.00 C590.48,7.38 594.22,7.70 598.00,8.30 C601.78,8.90 605.62,9.95 609.40,10.60 C613.18,11.25 616.62,11.85 620.70,12.20 C624.78,12.55 631.70,12.62 633.90,12.70" fill="none" stroke="#000" stroke-width="2.3" stroke-linecap="round" stroke-linejoin="round"/>
<path d="M575.30,43.30 C577.20,42.68 582.92,40.88 586.70,39.60 C590.48,38.32 594.22,36.95 598.00,35.60 C601.78,34.25 605.62,32.87 609.40,31.50 C613.18,30.13 616.62,28.35 620.70,27.40 C624.78,26.45 631.70,26.07 633.90,25.80" fill="none" stroke="#000" stroke-width="2.3" stroke-linecap="round" stroke-linejoin="round"/>
<path d="M575.30,43.30 C577.20,43.72 582.92,45.32 586.70,45.80 C590.48,46.28 594.22,46.25 598.00,46.20 C601.78,46.15 605.62,45.98 609.40,45.50 C613.18,45.02 616.62,43.75 620.70,43.30 C624.78,42.85 631.70,42.88 633.90,42.80" fill="none" stroke="#000" stroke-width="2.3" stroke-linecap="round" stroke-linejoin="round"/>
<path d="M575.30,77.10 C577.20,77.33 582.92,77.60 586.70,78.50 C590.48,79.40 594.22,80.88 598.00,82.50 C601.78,84.12 605.62,86.50 609.40,88.20 C613.18,89.90 616.62,91.50 620.70,92.70 C624.78,93.90 631.70,94.95 633.90,95.40" fill="none" stroke="#000" stroke-width="2.3" stroke-linecap="round" stroke-linejoin="round"/>
<path d="M575.30,87.20 C579.42,87.17 590.23,87.03 600.00,87.00 C609.77,86.97 628.25,87.00 633.90,87.00" fill="none" stroke="#000" stroke-width="2.3" stroke-linecap="round" stroke-linejoin="round"/>
<path d="M575.30,89.00 C579.42,89.03 590.23,89.15 600.00,89.20 C609.77,89.25 628.25,89.28 633.90,89.30" fill="none" stroke="#000" stroke-width="2.3" stroke-linecap="round" stroke-linejoin="round"/>
<path d="M356.30,144.60 C360.40,144.43 372.78,144.03 380.90,143.60 C389.02,143.17 399.55,142.37 405.00,142.00 C410.45,141.63 410.72,141.65 413.60,141.40 C416.48,141.15 419.42,140.75 422.30,140.50 C425.18,140.25 428.03,140.05 430.90,139.90 C433.77,139.75 435.02,139.65 439.50,139.60 C443.98,139.55 454.75,139.60 457.80,139.60" fill="none" stroke="#000" stroke-width="2.3" stroke-linecap="round" stroke-linejoin="round"/>
<path d="M356.30,148.80 C360.40,148.80 372.78,148.72 380.90,148.80 C389.02,148.88 398.10,149.07 405.00,149.30 C411.90,149.53 416.55,150.02 422.30,150.20 C428.05,150.38 433.58,150.38 439.50,150.40 C445.42,150.42 454.75,150.32 457.80,150.30" fill="none" stroke="#000" stroke-width="2.3" stroke-linecap="round" stroke-linejoin="round"/>
<path d="M356.30,150.10 C360.40,150.05 372.78,149.75 380.90,149.80 C389.02,149.85 398.10,150.17 405.00,150.40 C411.90,150.63 416.55,151.03 422.30,151.20 C428.05,151.37 433.58,151.42 439.50,151.40 C445.42,151.38 454.75,151.15 457.80,151.10" fill="none" stroke="#000" stroke-width="2.3" stroke-linecap="round" stroke-linejoin="round"/>
<path d="M457.80,139.60 C460.22,139.65 467.02,139.72 472.30,139.90 C477.58,140.08 483.22,140.37 489.50,140.70 C495.78,141.03 504.92,141.63 510.00,141.90 C515.08,142.17 515.83,142.05 520.00,142.30 C524.17,142.55 530.83,143.05 535.00,143.40 C539.17,143.75 541.55,144.03 545.00,144.40 C548.45,144.77 552.37,145.33 555.70,145.60 C559.03,145.87 561.73,145.92 565.00,146.00 C568.27,146.08 573.58,146.08 575.30,146.10" fill="none" stroke="#000" stroke-width="2.3" stroke-linecap="round" stroke-linejoin="round"/>
<path d="M457.80,150.40 C460.22,150.47 467.02,150.67 472.30,150.80 C477.58,150.93 485.22,151.27 489.50,151.20 C493.78,151.13 494.58,150.98 498.00,150.40 C501.42,149.82 505.50,148.39 510.00,147.70 C514.50,147.01 519.17,146.72 525.00,146.25 C530.83,145.78 539.88,144.84 545.00,144.90 C550.12,144.96 552.37,146.12 555.70,146.60 C559.03,147.08 561.73,147.53 565.00,147.80 C568.27,148.07 573.58,148.13 575.30,148.20" fill="none" stroke="#000" stroke-width="2.3" stroke-linecap="round" stroke-linejoin="round"/>
<path d="M457.80,151.10 C460.22,151.13 467.02,151.20 472.30,151.30 C477.58,151.40 483.22,151.52 489.50,151.70 C495.78,151.88 504.25,152.18 510.00,152.40 C515.75,152.62 519.67,153.03 524.00,153.00 C528.33,152.97 532.50,152.60 536.00,152.20 C539.50,151.80 542.67,151.02 545.00,150.60 C547.33,150.18 547.17,149.88 550.00,149.70 C552.83,149.52 557.78,149.52 562.00,149.50 C566.22,149.48 573.08,149.58 575.30,149.60" fill="none" stroke="#000" stroke-width="2.3" stroke-linecap="round" stroke-linejoin="round"/>
<path d="M575.30,146.10 C577.75,146.08 584.22,146.02 590.00,146.00 C595.78,145.98 602.68,146.03 610.00,146.00 C617.32,145.97 629.92,145.83 633.90,145.80" fill="none" stroke="#000" stroke-width="2.3" stroke-linecap="round" stroke-linejoin="round"/>
<path d="M575.30,148.20 C576.92,148.10 581.72,147.83 585.00,147.60 C588.28,147.37 590.83,147.00 595.00,146.80 C599.17,146.60 605.50,146.38 610.00,146.40 C614.50,146.42 618.02,146.60 622.00,146.90 C625.98,147.20 631.92,147.98 633.90,148.20" fill="none" stroke="#000" stroke-width="2.3" stroke-linecap="round" stroke-linejoin="round"/>
<path d="M575.30,149.80 C576.92,149.77 580.88,149.53 585.00,149.60 C589.12,149.67 595.00,150.03 600.00,150.20 C605.00,150.37 609.35,150.57 615.00,150.60 C620.65,150.63 630.75,150.43 633.90,150.40" fill="none" stroke="#000" stroke-width="2.3" stroke-linecap="round" stroke-linejoin="round"/>
<text x="351.50" y="202.60" font-size="12.4" font-weight="bold" text-anchor="end">0</text>
<text x="351.50" y="170.26" font-size="12.4" font-weight="bold" text-anchor="end">5</text>
<text x="351.50" y="137.92" font-size="12.4" font-weight="bold" text-anchor="end">10</text>
<text x="351.50" y="105.58" font-size="12.4" font-weight="bold" text-anchor="end">15</text>
<text x="351.50" y="73.23" font-size="12.4" font-weight="bold" text-anchor="end">20</text>
<text x="351.50" y="40.89" font-size="12.4" font-weight="bold" text-anchor="end">25</text>
<text x="351.50" y="8.55" font-size="12.4" font-weight="bold" text-anchor="end">30</text>
<text x="354.20" y="209.60" font-size="9.6" font-weight="bold" text-anchor="middle">M</text>
<text x="457.65" y="209.60" font-size="9.6" font-weight="bold" text-anchor="middle">Γ</text>
<text x="576.70" y="209.60" font-size="9.6" font-weight="bold" text-anchor="middle">K</text>
<text x="633.90" y="209.60" font-size="9.6" font-weight="bold" text-anchor="middle">Γ</text>
<text transform="translate(332.8,97.27) rotate(-90)" font-size="12.5" font-weight="bold" text-anchor="middle">Frequency (THz)</text>
<line x1="140.1" y1="225.00" x2="140.1" y2="421.0" stroke="#000" stroke-width="1.5" stroke-dasharray="7.7 5.75"/>
<line x1="257.9" y1="225.00" x2="257.9" y2="421.0" stroke="#000" stroke-width="1.5" stroke-dasharray="7.7 5.75"/>
<rect x="38.7" y="321.6" width="277.7" height="44.5" fill="#b3fbb3" stroke="#a0b4e6" stroke-width="0.8"/>
<rect x="38.7" y="227.1" width="277.70" height="193.90" fill="none" stroke="#000" stroke-width="2.2"/>
<line x1="38.7" y1="404.84" x2="40.65" y2="404.84" stroke="#000" stroke-width="1.6"/>
<line x1="38.7" y1="388.68" x2="42.00" y2="388.68" stroke="#000" stroke-width="1.6"/>
<line x1="38.7" y1="372.52" x2="40.65" y2="372.52" stroke="#000" stroke-width="1.6"/>
<line x1="38.7" y1="356.37" x2="42.00" y2="356.37" stroke="#000" stroke-width="1.6"/>
<line x1="38.7" y1="340.21" x2="40.65" y2="340.21" stroke="#000" stroke-width="1.6"/>
<line x1="38.7" y1="324.05" x2="42.00" y2="324.05" stroke="#000" stroke-width="1.6"/>
<line x1="38.7" y1="307.89" x2="40.65" y2="307.89" stroke="#000" stroke-width="1.6"/>
<line x1="38.7" y1="291.73" x2="42.00" y2="291.73" stroke="#000" stroke-width="1.6"/>
<line x1="38.7" y1="275.57" x2="40.65" y2="275.57" stroke="#000" stroke-width="1.6"/>
<line x1="38.7" y1="259.42" x2="42.00" y2="259.42" stroke="#000" stroke-width="1.6"/>
<line x1="38.7" y1="243.26" x2="40.65" y2="243.26" stroke="#000" stroke-width="1.6"/>
<path d="M38.70,381.50 C39.75,381.63 42.28,381.47 45.00,382.30 C47.72,383.13 51.83,385.05 55.00,386.50 C58.17,387.95 61.17,389.37 64.00,391.00 C66.83,392.63 69.33,394.55 72.00,396.30 C74.67,398.05 77.27,399.72 80.00,401.50 C82.73,403.28 85.73,405.37 88.40,407.00 C91.07,408.63 93.20,410.03 96.00,411.30 C98.80,412.57 102.20,413.62 105.20,414.60 C108.20,415.58 111.20,416.48 114.00,417.20 C116.80,417.92 119.33,418.42 122.00,418.90 C124.67,419.38 126.98,419.78 130.00,420.10 C133.02,420.42 138.42,420.68 140.10,420.80" fill="none" stroke="#ff0000" stroke-width="2.4" stroke-linecap="round" stroke-linejoin="round"/>
<path d="M140.10,420.80 C141.42,420.60 145.35,420.13 148.00,419.60 C150.65,419.07 153.00,418.57 156.00,417.60 C159.00,416.63 162.83,415.18 166.00,413.80 C169.17,412.42 171.83,411.00 175.00,409.30 C178.17,407.60 181.67,405.55 185.00,403.60 C188.33,401.65 191.67,399.58 195.00,397.60 C198.33,395.62 201.90,393.50 205.00,391.70 C208.10,389.90 210.70,388.32 213.60,386.80 C216.50,385.28 220.00,383.65 222.40,382.60 C224.80,381.55 225.90,381.03 228.00,380.50 C230.10,379.97 232.00,379.62 235.00,379.40 C238.00,379.18 242.17,379.28 246.00,379.20 C249.83,379.12 253.17,378.88 258.00,378.90 C262.83,378.92 269.67,379.20 275.00,379.30 C280.33,379.40 285.83,379.50 290.00,379.50 C294.17,379.50 297.00,379.42 300.00,379.30 C303.00,379.18 305.27,378.92 308.00,378.80 C310.73,378.68 315.00,378.63 316.40,378.60" fill="none" stroke="#ff0000" stroke-width="2.4" stroke-linecap="round" stroke-linejoin="round"/>
<path d="M38.70,371.00 C40.58,371.05 46.45,371.08 50.00,371.30 C53.55,371.52 56.40,371.68 60.00,372.30 C63.60,372.92 68.27,374.07 71.60,375.00 C74.93,375.93 77.20,376.77 80.00,377.90 C82.80,379.03 85.73,380.40 88.40,381.80 C91.07,383.20 93.20,384.62 96.00,386.30 C98.80,387.98 102.20,390.00 105.20,391.90 C108.20,393.80 111.20,395.73 114.00,397.70 C116.80,399.67 119.67,401.88 122.00,403.70 C124.33,405.52 126.00,406.82 128.00,408.60 C130.00,410.38 131.98,412.37 134.00,414.40 C136.02,416.43 139.08,419.73 140.10,420.80" fill="none" stroke="#0000ff" stroke-width="2.4" stroke-linecap="round" stroke-linejoin="round"/>
<path d="M140.10,420.80 C141.42,419.63 145.35,416.27 148.00,413.80 C150.65,411.33 152.33,409.28 156.00,406.00 C159.67,402.72 166.00,397.35 170.00,394.10 C174.00,390.85 176.67,388.87 180.00,386.50 C183.33,384.13 187.33,381.57 190.00,379.90 C192.67,378.23 193.53,377.58 196.00,376.50 C198.47,375.42 201.87,374.42 204.80,373.40 C207.73,372.38 210.67,371.25 213.60,370.40 C216.53,369.55 219.47,368.85 222.40,368.30 C225.33,367.75 228.27,367.35 231.20,367.10 C234.13,366.85 236.87,366.83 240.00,366.80 C243.13,366.77 247.00,366.80 250.00,366.90 C253.00,367.00 255.83,367.12 258.00,367.40 C260.17,367.68 261.00,368.05 263.00,368.60 C265.00,369.15 267.17,369.83 270.00,370.70 C272.83,371.57 276.67,372.70 280.00,373.80 C283.33,374.90 287.00,376.43 290.00,377.30 C293.00,378.17 295.00,378.37 298.00,379.00 C301.00,379.63 304.93,380.63 308.00,381.10 C311.07,381.57 315.00,381.68 316.40,381.80" fill="none" stroke="#0000ff" stroke-width="2.4" stroke-linecap="round" stroke-linejoin="round"/>
<path d="M38.70,378.60 C41.38,378.45 49.32,377.98 54.80,377.70 C60.28,377.42 66.00,377.05 71.60,376.90 C77.20,376.75 84.20,376.57 88.40,376.80 C92.60,377.03 94.00,377.38 96.80,378.30 C99.60,379.22 102.40,380.62 105.20,382.30 C108.00,383.98 110.80,386.02 113.60,388.40 C116.40,390.78 119.20,393.53 122.00,396.60 C124.80,399.67 128.15,403.98 130.40,406.80 C132.65,409.62 133.88,411.17 135.50,413.50 C137.12,415.83 139.33,419.58 140.10,420.80" fill="none" stroke="#ff8000" stroke-width="2.4" stroke-linecap="round" stroke-linejoin="round"/>
<path d="M140.10,420.80 C140.75,419.92 142.68,417.22 144.00,415.50 C145.32,413.78 146.00,413.02 148.00,410.50 C150.00,407.98 152.33,404.63 156.00,400.40 C159.67,396.17 166.00,388.58 170.00,385.10 C174.00,381.62 177.00,380.72 180.00,379.50 C183.00,378.28 185.33,378.08 188.00,377.80 C190.67,377.52 193.20,377.72 196.00,377.80 C198.80,377.88 201.87,378.12 204.80,378.30 C207.73,378.48 210.67,378.75 213.60,378.90 C216.53,379.05 220.20,379.23 222.40,379.20 C224.60,379.17 225.33,379.00 226.80,378.70 C228.27,378.40 229.00,378.13 231.20,377.40 C233.40,376.67 237.53,375.33 240.00,374.30 C242.47,373.27 244.33,371.98 246.00,371.20 C247.67,370.42 248.33,370.15 250.00,369.60 C251.67,369.05 254.33,368.28 256.00,367.90 C257.67,367.52 256.83,367.40 260.00,367.30 C263.17,367.20 270.00,367.14 275.00,367.30 C280.00,367.46 286.17,367.92 290.00,368.25 C293.83,368.58 295.00,368.93 298.00,369.30 C301.00,369.68 304.93,370.23 308.00,370.50 C311.07,370.77 315.00,370.83 316.40,370.90" fill="none" stroke="#ff8000" stroke-width="2.4" stroke-linecap="round" stroke-linejoin="round"/>
<path d="M38.70,258.80 C41.67,258.95 50.45,259.40 56.50,259.70 C62.55,260.00 69.75,260.42 75.00,260.60 C80.25,260.78 83.52,260.73 88.00,260.80 C92.48,260.87 97.27,261.00 101.90,261.00 C106.53,261.00 111.17,260.97 115.80,260.80 C120.43,260.63 125.65,260.18 129.70,260.00 C133.75,259.82 138.37,259.75 140.10,259.70" fill="none" stroke="#000" stroke-width="2.3" stroke-linecap="round" stroke-linejoin="round"/>
<path d="M38.70,269.00 C41.67,268.62 51.98,267.47 56.50,266.70 C61.02,265.93 62.72,265.25 65.80,264.40 C68.88,263.55 72.68,262.23 75.00,261.60 C77.32,260.97 77.53,260.93 79.70,260.60 C81.87,260.27 84.30,259.93 88.00,259.60 C91.70,259.27 97.27,258.77 101.90,258.60 C106.53,258.43 111.17,258.48 115.80,258.60 C120.43,258.72 125.65,259.12 129.70,259.30 C133.75,259.48 138.37,259.63 140.10,259.70" fill="none" stroke="#000" stroke-width="2.3" stroke-linecap="round" stroke-linejoin="round"/>
<path d="M38.70,276.40 C40.58,276.83 46.27,277.73 50.00,279.00 C53.73,280.27 57.32,282.00 61.10,284.00 C64.88,286.00 68.83,288.68 72.70,291.00 C76.57,293.32 80.43,296.17 84.30,297.90 C88.17,299.63 92.05,300.63 95.90,301.40 C99.75,302.17 103.55,302.58 107.40,302.50 C111.25,302.42 115.13,301.55 119.00,300.90 C122.87,300.25 127.08,299.05 130.60,298.60 C134.12,298.15 138.52,298.27 140.10,298.20" fill="none" stroke="#000" stroke-width="2.3" stroke-linecap="round" stroke-linejoin="round"/>
<path d="M38.70,310.00 C42.43,310.03 54.27,310.28 61.10,310.20 C67.93,310.12 75.22,309.68 79.70,309.50 C84.18,309.32 85.07,309.40 88.00,309.10 C90.93,308.80 94.22,308.17 97.30,307.70 C100.38,307.23 103.42,306.65 106.50,306.30 C109.58,305.95 112.72,305.72 115.80,305.60 C118.88,305.48 120.95,305.60 125.00,305.60 C129.05,305.60 137.58,305.60 140.10,305.60" fill="none" stroke="#000" stroke-width="2.3" stroke-linecap="round" stroke-linejoin="round"/>
<path d="M38.70,316.50 C42.43,316.35 54.27,316.22 61.10,315.60 C67.93,314.98 75.22,313.68 79.70,312.80 C84.18,311.92 85.07,311.07 88.00,310.30 C90.93,309.53 94.22,308.82 97.30,308.20 C100.38,307.58 103.42,307.00 106.50,306.60 C109.58,306.20 112.72,305.97 115.80,305.80 C118.88,305.63 120.95,305.63 125.00,305.60 C129.05,305.57 137.58,305.60 140.10,305.60" fill="none" stroke="#000" stroke-width="2.3" stroke-linecap="round" stroke-linejoin="round"/>
<path d="M38.70,320.20 C42.43,320.07 54.27,319.72 61.10,319.40 C67.93,319.08 75.22,318.60 79.70,318.30 C84.18,318.00 83.53,317.52 88.00,317.60 C92.47,317.68 101.87,318.52 106.50,318.80 C111.13,319.08 112.72,319.30 115.80,319.30 C118.88,319.30 120.95,318.97 125.00,318.80 C129.05,318.63 137.58,318.38 140.10,318.30" fill="none" stroke="#000" stroke-width="2.3" stroke-linecap="round" stroke-linejoin="round"/>
<path d="M140.10,259.80 C143.00,259.63 152.17,259.07 157.50,258.80 C162.83,258.53 167.23,258.22 172.10,258.20 C176.97,258.18 182.88,258.47 186.70,258.70 C190.52,258.93 191.92,259.43 195.00,259.60 C198.08,259.77 201.80,259.85 205.20,259.70 C208.60,259.55 212.00,259.03 215.40,258.70 C218.80,258.37 222.20,258.03 225.60,257.70 C229.00,257.37 232.40,256.92 235.80,256.70 C239.20,256.48 242.32,256.48 246.00,256.40 C249.68,256.32 255.92,256.23 257.90,256.20" fill="none" stroke="#000" stroke-width="2.3" stroke-linecap="round" stroke-linejoin="round"/>
<path d="M140.10,259.80 C143.00,259.90 152.17,260.27 157.50,260.40 C162.83,260.53 167.23,260.60 172.10,260.60 C176.97,260.60 182.88,260.35 186.70,260.40 C190.52,260.45 191.92,260.58 195.00,260.90 C198.08,261.22 201.80,261.65 205.20,262.30 C208.60,262.95 212.00,263.87 215.40,264.80 C218.80,265.73 222.20,266.87 225.60,267.90 C229.00,268.93 232.40,269.90 235.80,271.00 C239.20,272.10 242.32,273.40 246.00,274.50 C249.68,275.60 255.92,277.08 257.90,277.60" fill="none" stroke="#000" stroke-width="2.3" stroke-linecap="round" stroke-linejoin="round"/>
<path d="M140.10,298.20 C141.32,298.32 144.62,298.43 147.40,298.90 C150.18,299.37 153.67,300.25 156.80,301.00 C159.93,301.75 163.05,302.53 166.20,303.40 C169.35,304.27 172.55,305.18 175.70,306.20 C178.85,307.22 181.88,308.53 185.10,309.50 C188.32,310.47 191.62,311.27 195.00,312.00 C198.38,312.73 201.93,313.25 205.40,313.90 C208.87,314.55 212.32,315.30 215.80,315.90 C219.28,316.50 222.82,316.97 226.30,317.50 C229.78,318.03 231.43,318.67 236.70,319.10 C241.97,319.53 254.37,319.93 257.90,320.10" fill="none" stroke="#000" stroke-width="2.3" stroke-linecap="round" stroke-linejoin="round"/>
<path d="M140.10,305.60 C142.88,305.62 152.45,305.77 156.80,305.70 C161.15,305.63 163.05,305.32 166.20,305.20 C169.35,305.08 172.55,305.03 175.70,305.00 C178.85,304.97 181.88,305.00 185.10,305.00 C188.32,305.00 191.62,304.92 195.00,305.00 C198.38,305.08 201.93,305.50 205.40,305.50 C208.87,305.50 212.32,305.43 215.80,305.00 C219.28,304.57 222.82,303.68 226.30,302.90 C229.78,302.12 233.23,301.17 236.70,300.30 C240.17,299.43 243.57,298.28 247.10,297.70 C250.63,297.12 256.10,296.95 257.90,296.80" fill="none" stroke="#000" stroke-width="2.3" stroke-linecap="round" stroke-linejoin="round"/>
<path d="M140.10,305.60 C142.88,305.58 152.45,305.60 156.80,305.50 C161.15,305.40 163.05,305.20 166.20,305.00 C169.35,304.80 172.55,304.73 175.70,304.30 C178.85,303.87 181.88,303.18 185.10,302.40 C188.32,301.62 191.62,300.90 195.00,299.60 C198.38,298.30 201.93,296.22 205.40,294.60 C208.87,292.98 212.32,291.38 215.80,289.90 C219.28,288.42 222.82,286.88 226.30,285.70 C229.78,284.52 233.42,283.73 236.70,282.80 C239.98,281.87 242.47,280.97 246.00,280.10 C249.53,279.23 255.92,278.02 257.90,277.60" fill="none" stroke="#000" stroke-width="2.3" stroke-linecap="round" stroke-linejoin="round"/>
<path d="M140.10,318.30 C141.32,318.35 143.05,318.35 147.40,318.60 C151.75,318.85 161.48,319.60 166.20,319.80 C170.92,320.00 172.55,319.92 175.70,319.80 C178.85,319.68 181.38,319.33 185.10,319.10 C188.82,318.87 194.62,318.46 198.00,318.40 C201.38,318.34 202.43,318.58 205.40,318.75 C208.37,318.92 212.32,319.17 215.80,319.40 C219.28,319.62 219.28,319.93 226.30,320.10 C233.32,320.27 252.63,320.35 257.90,320.40" fill="none" stroke="#000" stroke-width="2.3" stroke-linecap="round" stroke-linejoin="round"/>
<path d="M257.90,256.40 C260.73,256.52 268.75,256.82 274.90,257.10 C281.05,257.38 288.50,257.83 294.80,258.10 C301.10,258.37 309.10,258.60 312.70,258.70 C316.30,258.80 315.78,258.70 316.40,258.70" fill="none" stroke="#000" stroke-width="2.3" stroke-linecap="round" stroke-linejoin="round"/>
<path d="M257.90,277.70 C259.08,277.47 262.17,276.85 265.00,276.30 C267.83,275.75 271.58,275.13 274.90,274.40 C278.22,273.67 281.58,272.57 284.90,271.90 C288.22,271.23 291.48,270.82 294.80,270.40 C298.12,269.98 301.20,269.65 304.80,269.40 C308.40,269.15 314.47,268.98 316.40,268.90" fill="none" stroke="#000" stroke-width="2.3" stroke-linecap="round" stroke-linejoin="round"/>
<path d="M257.90,277.70 C259.08,277.97 262.17,278.95 265.00,279.30 C267.83,279.65 271.58,279.88 274.90,279.80 C278.22,279.72 281.58,279.13 284.90,278.80 C288.22,278.47 291.48,278.10 294.80,277.80 C298.12,277.50 301.20,277.20 304.80,277.00 C308.40,276.80 314.47,276.67 316.40,276.60" fill="none" stroke="#000" stroke-width="2.3" stroke-linecap="round" stroke-linejoin="round"/>
<path d="M257.90,296.80 C259.07,296.90 262.08,296.73 264.90,297.40 C267.72,298.07 271.50,299.65 274.80,300.80 C278.10,301.95 281.40,303.22 284.70,304.30 C288.00,305.38 291.30,306.40 294.60,307.30 C297.90,308.20 300.87,309.17 304.50,309.70 C308.13,310.23 314.42,310.37 316.40,310.50" fill="none" stroke="#000" stroke-width="2.3" stroke-linecap="round" stroke-linejoin="round"/>
<path d="M257.90,319.60 C260.72,319.43 268.68,319.02 274.80,318.60 C280.92,318.18 287.67,317.50 294.60,317.10 C301.53,316.70 312.77,316.35 316.40,316.20" fill="none" stroke="#000" stroke-width="2.3" stroke-linecap="round" stroke-linejoin="round"/>
<path d="M257.90,320.40 C260.72,320.30 268.68,320.02 274.80,319.80 C280.92,319.58 287.67,319.30 294.60,319.10 C301.53,318.90 312.77,318.68 316.40,318.60" fill="none" stroke="#000" stroke-width="2.3" stroke-linecap="round" stroke-linejoin="round"/>
<text x="33.90" y="424.90" font-size="12.4" font-weight="bold" text-anchor="end">0</text>
<text x="33.90" y="392.58" font-size="12.4" font-weight="bold" text-anchor="end">5</text>
<text x="33.90" y="360.27" font-size="12.4" font-weight="bold" text-anchor="end">10</text>
<text x="33.90" y="327.95" font-size="12.4" font-weight="bold" text-anchor="end">15</text>
<text x="33.90" y="295.63" font-size="12.4" font-weight="bold" text-anchor="end">20</text>
<text x="33.90" y="263.32" font-size="12.4" font-weight="bold" text-anchor="end">25</text>
<text x="33.90" y="231.00" font-size="12.4" font-weight="bold" text-anchor="end">30</text>
<text x="37.75" y="431.90" font-size="9.6" font-weight="bold" text-anchor="middle">M</text>
<text x="140.10" y="431.90" font-size="9.6" font-weight="bold" text-anchor="middle">Γ</text>
<text x="257.90" y="431.90" font-size="9.6" font-weight="bold" text-anchor="middle">K</text>
<text x="316.30" y="431.90" font-size="9.6" font-weight="bold" text-anchor="middle">Γ</text>
<text transform="translate(9.2,319.65) rotate(-90)" font-size="12.5" font-weight="bold" text-anchor="middle">Frequency (THz)</text>
<line x1="457.8" y1="225.10" x2="457.8" y2="421.0" stroke="#000" stroke-width="1.5" stroke-dasharray="7.7 5.75"/>
<line x1="575.3" y1="225.10" x2="575.3" y2="421.0" stroke="#000" stroke-width="1.5" stroke-dasharray="7.7 5.75"/>
<rect x="356.2" y="227.2" width="277.80" height="193.80" fill="none" stroke="#000" stroke-width="2.2"/>
<line x1="356.2" y1="408.89" x2="358.15" y2="408.89" stroke="#000" stroke-width="1.6"/>
<line x1="356.2" y1="396.77" x2="359.50" y2="396.77" stroke="#000" stroke-width="1.6"/>
<line x1="356.2" y1="384.66" x2="358.15" y2="384.66" stroke="#000" stroke-width="1.6"/>
<line x1="356.2" y1="372.55" x2="359.50" y2="372.55" stroke="#000" stroke-width="1.6"/>
<line x1="356.2" y1="360.44" x2="358.15" y2="360.44" stroke="#000" stroke-width="1.6"/>
<line x1="356.2" y1="348.32" x2="359.50" y2="348.32" stroke="#000" stroke-width="1.6"/>
<line x1="356.2" y1="336.21" x2="358.15" y2="336.21" stroke="#000" stroke-width="1.6"/>
<line x1="356.2" y1="324.10" x2="359.50" y2="324.10" stroke="#000" stroke-width="1.6"/>
<line x1="356.2" y1="311.99" x2="358.15" y2="311.99" stroke="#000" stroke-width="1.6"/>
<line x1="356.2" y1="299.88" x2="359.50" y2="299.88" stroke="#000" stroke-width="1.6"/>
<line x1="356.2" y1="287.76" x2="358.15" y2="287.76" stroke="#000" stroke-width="1.6"/>
<line x1="356.2" y1="275.65" x2="359.50" y2="275.65" stroke="#000" stroke-width="1.6"/>
<line x1="356.2" y1="263.54" x2="358.15" y2="263.54" stroke="#000" stroke-width="1.6"/>
<line x1="356.2" y1="251.43" x2="359.50" y2="251.43" stroke="#000" stroke-width="1.6"/>
<line x1="356.2" y1="239.31" x2="358.15" y2="239.31" stroke="#000" stroke-width="1.6"/>
<line x1="356.2" y1="372.55" x2="634.0" y2="372.55" stroke="#4ca64c" stroke-width="1.4" stroke-dasharray="4 2.6" stroke-dashoffset="-2.3"/>
<path d="M356.20,364.10 C357.73,363.48 362.13,361.97 365.40,360.40 C368.67,358.83 372.32,356.52 375.80,354.70 C379.28,352.88 383.38,350.68 386.25,349.50 C389.12,348.32 390.14,347.58 393.00,347.60 C395.86,347.62 399.93,348.37 403.40,349.60 C406.87,350.83 410.32,353.06 413.80,355.00 C417.28,356.94 421.02,359.23 424.25,361.25 C427.48,363.27 430.84,365.74 433.20,367.10 C435.56,368.46 437.18,368.77 438.40,369.40 C439.62,370.03 439.82,370.25 440.50,370.90 C441.18,371.55 441.58,372.72 442.50,373.30 C443.42,373.88 444.75,374.22 446.00,374.40 C447.25,374.58 448.50,374.55 450.00,374.40 C451.50,374.25 453.70,373.77 455.00,373.50 C456.30,373.23 457.33,372.92 457.80,372.80" fill="none" stroke="#ff0000" stroke-width="2.4" stroke-linecap="round" stroke-linejoin="round"/>
<path d="M457.80,372.80 C458.80,372.80 461.83,373.05 463.80,372.80 C465.77,372.55 467.67,371.87 469.60,371.30 C471.53,370.73 473.48,370.12 475.40,369.40 C477.32,368.68 479.18,367.88 481.10,367.00 C483.02,366.12 484.97,365.06 486.90,364.10 C488.83,363.14 490.77,362.20 492.70,361.25 C494.63,360.30 496.45,359.47 498.50,358.40 C500.55,357.32 503.08,355.75 505.00,354.80 C506.92,353.85 508.07,353.23 510.00,352.70 C511.93,352.17 514.60,351.70 516.60,351.60 C518.60,351.50 520.27,351.53 522.00,352.10 C523.73,352.67 525.50,353.73 527.00,355.00 C528.50,356.27 529.85,357.93 531.00,359.70 C532.15,361.47 533.13,363.42 533.90,365.60 C534.67,367.78 535.10,370.50 535.60,372.80 C536.10,375.10 536.42,377.37 536.90,379.40 C537.38,381.43 537.82,383.13 538.50,385.00 C539.18,386.87 539.92,388.63 541.00,390.60 C542.08,392.57 543.40,394.73 545.00,396.80 C546.60,398.87 548.75,401.15 550.60,403.00 C552.45,404.85 554.25,406.55 556.10,407.90 C557.95,409.25 559.62,410.28 561.70,411.10 C563.78,411.92 566.28,412.47 568.60,412.80 C570.92,413.13 573.05,413.28 575.60,413.10 C578.15,412.92 581.35,412.45 583.90,411.70 C586.45,410.95 588.58,409.82 590.90,408.60 C593.22,407.38 595.48,405.90 597.80,404.40 C600.12,402.90 602.48,401.45 604.80,399.60 C607.12,397.75 609.38,395.50 611.70,393.30 C614.02,391.10 616.85,388.37 618.70,386.40 C620.55,384.43 621.68,383.35 622.80,381.50 C623.92,379.65 624.78,377.27 625.40,375.30 C626.02,373.33 626.00,371.21 626.50,369.70 C627.00,368.19 627.48,367.15 628.40,366.25 C629.32,365.35 631.07,364.68 632.00,364.30 C632.93,363.93 633.67,364.05 634.00,364.00" fill="none" stroke="#ff0000" stroke-width="2.4" stroke-linecap="round" stroke-linejoin="round"/>
<path d="M356.20,335.90 C357.73,335.96 362.13,336.07 365.40,336.25 C368.67,336.43 372.32,336.71 375.80,337.00 C379.28,337.29 383.38,337.60 386.25,338.00 C389.12,338.40 390.14,338.65 393.00,339.40 C395.86,340.15 399.93,341.28 403.40,342.50 C406.87,343.72 410.32,345.22 413.80,346.70 C417.28,348.18 421.05,349.85 424.25,351.40 C427.45,352.95 430.64,354.83 433.00,356.00 C435.36,357.17 435.77,356.90 438.40,358.40 C441.03,359.90 446.20,363.12 448.80,365.00 C451.40,366.88 452.50,368.43 454.00,369.70 C455.50,370.97 457.17,372.12 457.80,372.60" fill="none" stroke="#0000ff" stroke-width="2.4" stroke-linecap="round" stroke-linejoin="round"/>
<path d="M457.80,372.60 C458.80,371.87 461.83,369.62 463.80,368.20 C465.77,366.78 467.67,365.35 469.60,364.10 C471.53,362.85 473.48,361.75 475.40,360.70 C477.32,359.65 479.18,358.77 481.10,357.80 C483.02,356.83 484.97,355.77 486.90,354.90 C488.83,354.03 490.77,353.32 492.70,352.60 C494.63,351.88 495.98,351.47 498.50,350.60 C501.02,349.73 504.78,348.40 507.80,347.40 C510.82,346.40 513.22,346.03 516.60,344.60 C519.98,343.17 524.25,340.82 528.10,338.80 C531.95,336.78 536.05,334.67 539.70,332.50 C543.35,330.33 546.62,327.28 550.00,325.80 C553.38,324.32 556.67,324.10 560.00,323.60 C563.33,323.10 567.45,322.87 570.00,322.80 C572.55,322.73 572.80,322.87 575.30,323.20 C577.80,323.53 581.72,324.12 585.00,324.80 C588.28,325.48 591.67,326.45 595.00,327.30 C598.33,328.15 601.67,329.17 605.00,329.90 C608.33,330.63 611.67,331.17 615.00,331.70 C618.33,332.23 621.83,332.78 625.00,333.10 C628.17,333.42 632.50,333.52 634.00,333.60" fill="none" stroke="#0000ff" stroke-width="2.4" stroke-linecap="round" stroke-linejoin="round"/>
<path d="M356.20,333.30 C357.73,333.33 362.13,333.35 365.40,333.50 C368.67,333.65 372.32,333.88 375.80,334.20 C379.28,334.52 383.38,334.88 386.25,335.40 C389.12,335.92 390.14,336.47 393.00,337.30 C395.86,338.13 399.93,339.18 403.40,340.40 C406.87,341.62 410.32,343.21 413.80,344.60 C417.28,345.99 421.05,347.52 424.25,348.75 C427.45,349.98 430.64,351.04 433.00,352.00 C435.36,352.96 435.77,352.85 438.40,354.50 C441.03,356.15 446.20,359.72 448.80,361.90 C451.40,364.08 452.50,365.82 454.00,367.60 C455.50,369.38 457.17,371.77 457.80,372.60" fill="none" stroke="#ff8000" stroke-width="2.4" stroke-linecap="round" stroke-linejoin="round"/>
<path d="M457.80,372.60 C458.80,371.28 461.83,366.98 463.80,364.70 C465.77,362.42 467.67,360.73 469.60,358.90 C471.53,357.07 473.48,355.23 475.40,353.70 C477.32,352.17 479.18,350.95 481.10,349.70 C483.02,348.45 484.97,347.17 486.90,346.20 C488.83,345.23 490.77,344.57 492.70,343.90 C494.63,343.23 495.98,342.78 498.50,342.20 C501.02,341.62 504.78,341.05 507.80,340.40 C510.82,339.75 513.22,339.23 516.60,338.30 C519.98,337.37 524.25,335.97 528.10,334.80 C531.95,333.63 535.83,332.40 539.70,331.30 C543.57,330.20 547.92,329.02 551.30,328.20 C554.68,327.38 556.88,327.05 560.00,326.40 C563.12,325.75 567.45,324.78 570.00,324.30 C572.55,323.82 572.80,323.63 575.30,323.50 C577.80,323.37 581.72,323.20 585.00,323.50 C588.28,323.80 591.67,324.47 595.00,325.30 C598.33,326.13 601.67,327.43 605.00,328.50 C608.33,329.57 611.67,330.65 615.00,331.70 C618.33,332.75 621.83,334.12 625.00,334.80 C628.17,335.48 632.50,335.63 634.00,335.80" fill="none" stroke="#ff8000" stroke-width="2.4" stroke-linecap="round" stroke-linejoin="round"/>
<path d="M356.20,251.50 C359.47,251.62 369.05,251.75 375.80,252.20 C382.55,252.65 389.75,253.35 396.70,254.20 C403.65,255.05 410.57,256.60 417.50,257.30 C424.43,258.00 431.58,258.18 438.30,258.40 C445.02,258.62 454.55,258.57 457.80,258.60" fill="none" stroke="#000" stroke-width="2.3" stroke-linecap="round" stroke-linejoin="round"/>
<path d="M356.20,253.00 C359.08,253.22 367.53,253.58 373.50,254.30 C379.47,255.02 386.60,256.53 392.00,257.30 C397.40,258.07 400.40,258.55 405.90,258.90 C411.40,259.25 416.35,259.35 425.00,259.40 C433.65,259.45 452.33,259.23 457.80,259.20" fill="none" stroke="#000" stroke-width="2.3" stroke-linecap="round" stroke-linejoin="round"/>
<path d="M356.20,258.00 C359.08,258.00 367.53,258.03 373.50,258.00 C379.47,257.97 385.92,257.93 392.00,257.80 C398.08,257.67 403.67,257.17 410.00,257.20 C416.33,257.23 422.03,257.75 430.00,258.00 C437.97,258.25 453.17,258.58 457.80,258.70" fill="none" stroke="#000" stroke-width="2.3" stroke-linecap="round" stroke-linejoin="round"/>
<path d="M356.20,265.00 C357.55,264.60 361.42,263.32 364.30,262.60 C367.18,261.88 368.88,261.23 373.50,260.70 C378.12,260.17 385.92,259.70 392.00,259.40 C398.08,259.10 403.67,258.92 410.00,258.90 C416.33,258.88 422.03,259.22 430.00,259.30 C437.97,259.38 453.17,259.38 457.80,259.40" fill="none" stroke="#000" stroke-width="2.3" stroke-linecap="round" stroke-linejoin="round"/>
<path d="M356.20,265.50 C357.55,265.80 361.42,266.47 364.30,267.30 C367.18,268.13 370.88,269.47 373.50,270.50 C376.12,271.53 377.18,272.03 380.00,273.50 C382.82,274.97 386.93,277.30 390.40,279.30 C393.87,281.30 397.32,283.35 400.80,285.50 C404.28,287.65 408.63,290.53 411.25,292.20 C413.87,293.87 414.76,294.78 416.50,295.50 C418.24,296.22 419.97,296.53 421.70,296.50 C423.43,296.47 425.02,296.00 426.90,295.30 C428.78,294.60 430.28,293.67 433.00,292.30 C435.72,290.93 440.22,288.42 443.20,287.10 C446.18,285.78 448.47,284.92 450.90,284.40 C453.33,283.88 456.65,284.07 457.80,284.00" fill="none" stroke="#000" stroke-width="2.3" stroke-linecap="round" stroke-linejoin="round"/>
<path d="M356.20,273.20 C357.50,273.17 361.70,273.03 364.00,273.00 C366.30,272.97 368.00,272.83 370.00,273.00 C372.00,273.17 374.00,273.37 376.00,274.00 C378.00,274.63 379.60,275.63 382.00,276.80 C384.40,277.97 387.27,279.30 390.40,281.00 C393.53,282.70 397.32,284.97 400.80,287.00 C404.28,289.03 408.63,291.58 411.25,293.20 C413.87,294.82 414.76,295.80 416.50,296.70 C418.24,297.60 419.37,297.22 421.70,298.60 C424.03,299.98 426.92,302.68 430.50,305.00 C434.08,307.32 438.65,310.70 443.20,312.50 C447.75,314.30 455.37,315.25 457.80,315.80" fill="none" stroke="#000" stroke-width="2.3" stroke-linecap="round" stroke-linejoin="round"/>
<path d="M356.20,298.50 C359.47,298.47 369.05,298.20 375.80,298.30 C382.55,298.40 391.00,298.80 396.70,299.10 C402.40,299.40 406.12,299.90 410.00,300.10 C413.88,300.30 415.33,300.23 420.00,300.30 C424.67,300.37 431.70,300.45 438.00,300.50 C444.30,300.55 454.50,300.58 457.80,300.60" fill="none" stroke="#000" stroke-width="2.3" stroke-linecap="round" stroke-linejoin="round"/>
<path d="M356.20,302.20 C357.67,302.28 361.73,302.35 365.00,302.70 C368.27,303.05 372.47,303.78 375.80,304.30 C379.13,304.82 381.52,305.28 385.00,305.80 C388.48,306.32 392.53,306.78 396.70,307.40 C400.87,308.02 406.12,308.65 410.00,309.50 C413.88,310.35 415.83,311.58 420.00,312.50 C424.17,313.42 428.70,314.35 435.00,315.00 C441.30,315.65 454.00,316.17 457.80,316.40" fill="none" stroke="#000" stroke-width="2.3" stroke-linecap="round" stroke-linejoin="round"/>
<path d="M356.20,310.00 C357.67,309.83 361.73,309.43 365.00,309.00 C368.27,308.57 372.47,307.93 375.80,307.40 C379.13,306.87 381.52,306.32 385.00,305.80 C388.48,305.28 392.53,304.73 396.70,304.30 C400.87,303.87 406.12,303.50 410.00,303.20 C413.88,302.90 415.00,302.63 420.00,302.50 C425.00,302.37 433.70,302.42 440.00,302.40 C446.30,302.38 454.83,302.40 457.80,302.40" fill="none" stroke="#000" stroke-width="2.3" stroke-linecap="round" stroke-linejoin="round"/>
<path d="M356.20,311.60 C357.67,311.60 361.73,311.35 365.00,311.60 C368.27,311.85 372.47,312.58 375.80,313.10 C379.13,313.62 381.52,314.18 385.00,314.70 C388.48,315.22 392.53,315.93 396.70,316.25 C400.87,316.57 406.12,316.39 410.00,316.60 C413.88,316.81 415.00,317.02 420.00,317.50 C425.00,317.98 433.70,318.73 440.00,319.50 C446.30,320.27 454.83,321.67 457.80,322.10" fill="none" stroke="#000" stroke-width="2.3" stroke-linecap="round" stroke-linejoin="round"/>
<path d="M356.20,322.50 C359.47,322.50 371.00,322.58 375.80,322.50 C380.60,322.42 381.52,322.35 385.00,322.00 C388.48,321.65 392.53,321.02 396.70,320.40 C400.87,319.78 406.12,318.90 410.00,318.30 C413.88,317.70 415.33,317.15 420.00,316.80 C424.67,316.45 431.70,316.27 438.00,316.20 C444.30,316.13 454.50,316.37 457.80,316.40" fill="none" stroke="#000" stroke-width="2.3" stroke-linecap="round" stroke-linejoin="round"/>
<path d="M457.80,258.60 C461.00,258.58 470.13,259.03 477.00,258.50 C483.87,257.97 491.67,256.83 499.00,255.40 C506.33,253.97 513.67,251.07 521.00,249.90 C528.33,248.73 535.67,248.52 543.00,248.40 C550.33,248.28 559.62,249.00 565.00,249.20 C570.38,249.40 573.58,249.53 575.30,249.60" fill="none" stroke="#000" stroke-width="2.3" stroke-linecap="round" stroke-linejoin="round"/>
<path d="M457.80,258.90 C461.00,258.87 470.13,258.98 477.00,258.70 C483.87,258.42 491.67,258.12 499.00,257.20 C506.33,256.28 513.67,254.23 521.00,253.20 C528.33,252.17 533.95,251.37 543.00,251.00 C552.05,250.63 569.92,251.00 575.30,251.00" fill="none" stroke="#000" stroke-width="2.3" stroke-linecap="round" stroke-linejoin="round"/>
<path d="M457.80,259.20 C461.00,259.23 470.13,259.37 477.00,259.40 C483.87,259.43 491.67,259.52 499.00,259.40 C506.33,259.28 513.67,258.45 521.00,258.70 C528.33,258.95 536.50,259.93 543.00,260.90 C549.50,261.87 554.62,263.58 560.00,264.50 C565.38,265.42 572.75,266.08 575.30,266.40" fill="none" stroke="#000" stroke-width="2.3" stroke-linecap="round" stroke-linejoin="round"/>
<path d="M457.80,259.40 C461.00,259.47 470.13,259.67 477.00,259.80 C483.87,259.93 491.67,260.20 499.00,260.20 C506.33,260.20 513.67,259.53 521.00,259.80 C528.33,260.07 536.50,260.97 543.00,261.80 C549.50,262.63 554.62,264.00 560.00,264.80 C565.38,265.60 572.75,266.30 575.30,266.60" fill="none" stroke="#000" stroke-width="2.3" stroke-linecap="round" stroke-linejoin="round"/>
<path d="M457.80,315.80 C459.27,315.72 463.22,315.87 466.60,315.30 C469.98,314.73 474.25,314.03 478.10,312.40 C481.95,310.77 485.85,307.90 489.70,305.50 C493.55,303.10 497.35,300.50 501.20,298.00 C505.05,295.50 509.33,292.58 512.80,290.50 C516.27,288.42 518.80,287.25 522.00,285.50 C525.20,283.75 526.67,282.25 532.00,280.00 C537.33,277.75 546.78,274.17 554.00,272.00 C561.22,269.83 571.75,267.83 575.30,267.00" fill="none" stroke="#000" stroke-width="2.3" stroke-linecap="round" stroke-linejoin="round"/>
<path d="M457.80,316.40 C459.83,316.33 466.62,316.28 470.00,316.00 C473.38,315.72 474.82,315.70 478.10,314.70 C481.38,313.70 485.85,312.12 489.70,310.00 C493.55,307.88 497.35,304.67 501.20,302.00 C505.05,299.33 509.33,296.25 512.80,294.00 C516.27,291.75 518.30,290.58 522.00,288.50 C525.70,286.42 529.67,284.00 535.00,281.50 C540.33,279.00 547.28,275.72 554.00,273.50 C560.72,271.28 571.75,269.08 575.30,268.20" fill="none" stroke="#000" stroke-width="2.3" stroke-linecap="round" stroke-linejoin="round"/>
<path d="M457.80,284.00 C459.27,284.25 463.22,284.33 466.60,285.50 C469.98,286.67 474.25,289.03 478.10,291.00 C481.95,292.97 485.85,295.72 489.70,297.30 C493.55,298.88 497.35,299.43 501.20,300.50 C505.05,301.57 509.67,303.03 512.80,303.70 C515.93,304.37 515.47,304.12 520.00,304.50 C524.53,304.88 533.33,305.42 540.00,306.00 C546.67,306.58 554.12,307.45 560.00,308.00 C565.88,308.55 572.75,309.08 575.30,309.30" fill="none" stroke="#000" stroke-width="2.3" stroke-linecap="round" stroke-linejoin="round"/>
<path d="M457.80,300.60 C461.18,300.63 472.78,300.67 478.10,300.80 C483.42,300.93 485.85,301.40 489.70,301.40 C493.55,301.40 497.35,301.28 501.20,300.80 C505.05,300.32 509.67,299.08 512.80,298.50 C515.93,297.92 515.47,298.22 520.00,297.30 C524.53,296.38 533.33,294.30 540.00,293.00 C546.67,291.70 554.12,290.27 560.00,289.50 C565.88,288.73 572.75,288.58 575.30,288.40" fill="none" stroke="#000" stroke-width="2.3" stroke-linecap="round" stroke-linejoin="round"/>
<path d="M457.80,302.40 C461.18,302.42 472.78,302.43 478.10,302.50 C483.42,302.57 485.85,302.83 489.70,302.80 C493.55,302.77 497.35,302.68 501.20,302.30 C505.05,301.92 508.00,301.38 512.80,300.50 C517.60,299.62 523.80,298.17 530.00,297.00 C536.20,295.83 542.45,294.38 550.00,293.50 C557.55,292.62 571.08,292.00 575.30,291.70" fill="none" stroke="#000" stroke-width="2.3" stroke-linecap="round" stroke-linejoin="round"/>
<path d="M457.80,316.40 C461.18,316.42 472.78,316.73 478.10,316.50 C483.42,316.27 485.85,315.92 489.70,315.00 C493.55,314.08 497.35,312.25 501.20,311.00 C505.05,309.75 509.67,308.33 512.80,307.50 C515.93,306.67 515.47,306.33 520.00,306.00 C524.53,305.67 533.33,305.33 540.00,305.50 C546.67,305.67 554.12,306.37 560.00,307.00 C565.88,307.63 572.75,308.92 575.30,309.30" fill="none" stroke="#000" stroke-width="2.3" stroke-linecap="round" stroke-linejoin="round"/>
<path d="M457.80,322.10 C459.27,322.02 463.22,321.97 466.60,321.60 C469.98,321.23 474.25,320.47 478.10,319.90 C481.95,319.33 485.85,318.58 489.70,318.20 C493.55,317.82 497.35,317.55 501.20,317.60 C505.05,317.65 509.33,318.18 512.80,318.50 C516.27,318.82 518.30,319.58 522.00,319.50 C525.70,319.42 530.33,318.70 535.00,318.00 C539.67,317.30 545.83,316.05 550.00,315.30 C554.17,314.55 555.78,314.13 560.00,313.50 C564.22,312.87 572.75,311.83 575.30,311.50" fill="none" stroke="#000" stroke-width="2.3" stroke-linecap="round" stroke-linejoin="round"/>
<path d="M457.80,315.80 C461.17,315.92 472.68,316.42 478.00,316.50 C483.32,316.58 485.83,316.80 489.70,316.30 C493.57,315.80 497.35,314.25 501.20,313.50 C505.05,312.75 509.67,312.18 512.80,311.80 C515.93,311.42 515.47,311.42 520.00,311.20 C524.53,310.98 533.33,310.70 540.00,310.50 C546.67,310.30 554.12,310.20 560.00,310.00 C565.88,309.80 572.75,309.42 575.30,309.30" fill="none" stroke="#000" stroke-width="2.3" stroke-linecap="round" stroke-linejoin="round"/>
<path d="M575.30,249.60 C578.25,249.60 586.38,249.28 593.00,249.60 C599.62,249.92 608.17,251.02 615.00,251.50 C621.83,251.98 630.83,252.33 634.00,252.50" fill="none" stroke="#000" stroke-width="2.3" stroke-linecap="round" stroke-linejoin="round"/>
<path d="M575.30,251.00 C578.25,250.92 586.38,250.20 593.00,250.50 C599.62,250.80 608.17,252.22 615.00,252.80 C621.83,253.38 630.83,253.80 634.00,254.00" fill="none" stroke="#000" stroke-width="2.3" stroke-linecap="round" stroke-linejoin="round"/>
<path d="M575.30,266.40 C578.25,265.97 586.38,264.72 593.00,263.80 C599.62,262.88 608.17,261.63 615.00,260.90 C621.83,260.17 630.83,259.65 634.00,259.40" fill="none" stroke="#000" stroke-width="2.3" stroke-linecap="round" stroke-linejoin="round"/>
<path d="M575.30,266.60 C578.25,266.50 586.38,266.22 593.00,266.00 C599.62,265.78 608.17,265.42 615.00,265.30 C621.83,265.18 630.83,265.30 634.00,265.30" fill="none" stroke="#000" stroke-width="2.3" stroke-linecap="round" stroke-linejoin="round"/>
<path d="M575.30,267.00 C578.25,267.27 586.38,267.97 593.00,268.60 C599.62,269.23 608.17,270.07 615.00,270.80 C621.83,271.53 630.83,272.63 634.00,273.00" fill="none" stroke="#000" stroke-width="2.3" stroke-linecap="round" stroke-linejoin="round"/>
<path d="M575.30,288.40 C578.25,289.32 588.22,292.25 593.00,293.90 C597.78,295.55 600.33,297.20 604.00,298.30 C607.67,299.40 610.00,300.02 615.00,300.50 C620.00,300.98 630.83,301.08 634.00,301.20" fill="none" stroke="#000" stroke-width="2.3" stroke-linecap="round" stroke-linejoin="round"/>
<path d="M575.30,291.70 C578.25,292.33 588.22,294.23 593.00,295.50 C597.78,296.77 600.33,298.30 604.00,299.30 C607.67,300.30 610.00,300.98 615.00,301.50 C620.00,302.02 630.83,302.25 634.00,302.40" fill="none" stroke="#000" stroke-width="2.3" stroke-linecap="round" stroke-linejoin="round"/>
<path d="M575.30,309.30 C578.25,308.38 586.38,305.45 593.00,303.80 C599.62,302.15 608.17,300.32 615.00,299.40 C621.83,298.48 630.83,298.48 634.00,298.30" fill="none" stroke="#000" stroke-width="2.3" stroke-linecap="round" stroke-linejoin="round"/>
<path d="M575.30,309.30 C578.25,309.12 586.38,308.38 593.00,308.20 C599.62,308.02 608.17,308.02 615.00,308.20 C621.83,308.38 630.83,309.12 634.00,309.30" fill="none" stroke="#000" stroke-width="2.3" stroke-linecap="round" stroke-linejoin="round"/>
<path d="M575.30,311.50 C576.92,311.75 581.72,312.18 585.00,313.00 C588.28,313.82 591.67,315.48 595.00,316.40 C598.33,317.32 601.67,317.80 605.00,318.50 C608.33,319.20 611.67,320.03 615.00,320.60 C618.33,321.17 621.83,321.62 625.00,321.90 C628.17,322.18 632.50,322.23 634.00,322.30" fill="none" stroke="#000" stroke-width="2.3" stroke-linecap="round" stroke-linejoin="round"/>
<text x="351.40" y="424.90" font-size="12.4" font-weight="bold" text-anchor="end">-10</text>
<text x="351.40" y="400.67" font-size="12.4" font-weight="bold" text-anchor="end">-5</text>
<text x="351.40" y="376.45" font-size="12.4" font-weight="bold" text-anchor="end">0</text>
<text x="351.40" y="352.22" font-size="12.4" font-weight="bold" text-anchor="end">5</text>
<text x="351.40" y="328.00" font-size="12.4" font-weight="bold" text-anchor="end">10</text>
<text x="351.40" y="303.77" font-size="12.4" font-weight="bold" text-anchor="end">15</text>
<text x="351.40" y="279.55" font-size="12.4" font-weight="bold" text-anchor="end">20</text>
<text x="351.40" y="255.33" font-size="12.4" font-weight="bold" text-anchor="end">25</text>
<text x="351.40" y="231.10" font-size="12.4" font-weight="bold" text-anchor="end">30</text>
<text x="355.30" y="431.90" font-size="9.6" font-weight="bold" text-anchor="middle">M</text>
<text x="457.90" y="431.90" font-size="9.6" font-weight="bold" text-anchor="middle">Γ</text>
<text x="576.00" y="431.90" font-size="9.6" font-weight="bold" text-anchor="middle">K</text>
<text x="634.00" y="431.90" font-size="9.6" font-weight="bold" text-anchor="middle">Γ</text>
<text transform="translate(332.8,319.70) rotate(-90)" font-size="12.5" font-weight="bold" text-anchor="middle">Frequency (THz)</text>
<text x="47.6" y="15.4" font-size="11">(</text><text x="53.8" y="16.9" font-size="12" font-weight="bold">a</text><text x="61.6" y="15.4" font-size="11">)</text>
<text x="46" y="190.5" font-size="10" font-weight="bold" fill="#000" text-anchor="start" >bulk-TiB<tspan font-size="6.5" dy="2.5">2</tspan></text>
<text x="254.8" y="119.2" font-size="10" font-weight="bold" fill="#000" text-anchor="start" textLength="57.6" lengthAdjust="spacingAndGlyphs">Gap=4.58THz</text>
<text x="75.3" y="154.7" font-size="7.6" font-weight="normal" fill="#ff0000" text-anchor="start" >TA<tspan font-size="5.5" dy="2.5">1</tspan></text>
<text x="89.6" y="145.8" font-size="7.6" font-weight="normal" fill="#0000ff" text-anchor="start" >TA<tspan font-size="5.5" dy="2.5">2</tspan></text>
<text x="111.2" y="150.7" font-size="7.6" font-weight="normal" fill="#ff8000" text-anchor="start" >LA</text>
<text x="362.5" y="17.75" font-size="11.8" font-weight="normal" fill="#000" text-anchor="start" >(<tspan font-weight="bold">b</tspan>)</text>
<text x="363.3" y="190.3" font-size="10" font-weight="bold" fill="#000" text-anchor="start" >mono-Ti<tspan font-size="6.5" dy="2.2">2</tspan><tspan dy="-2.2">B</tspan><tspan font-size="6.5" dy="2.2">2</tspan></text>
<text x="573.4" y="132.8" font-size="10" font-weight="bold" fill="#000" text-anchor="start" textLength="58.8" lengthAdjust="spacingAndGlyphs">Gap=6.44THz</text>
<text x="432.1" y="166.5" font-size="7.6" font-weight="normal" fill="#ff8000" text-anchor="start" >LA</text>
<text x="417.2" y="171.7" font-size="7.6" font-weight="normal" fill="#0000ff" text-anchor="start" >TA</text>
<text x="413" y="180.7" font-size="7.6" font-weight="normal" fill="#ff0000" text-anchor="start" >ZA</text>
<text x="44.2" y="243.5" font-size="12" font-weight="bold" fill="#000" text-anchor="start" >(c)</text>
<text x="42.4" y="415.8" font-size="10" font-weight="bold" fill="#000" text-anchor="start" >mono-TiB<tspan font-size="6.5" dy="2.2">2</tspan></text>
<text x="260.1" y="359.7" font-size="10" font-weight="bold" fill="#000" text-anchor="start" textLength="53.9" lengthAdjust="spacingAndGlyphs">Gap=7.3THz</text>
<text x="115.1" y="388.7" font-size="7.6" font-weight="normal" fill="#ff8000" text-anchor="start" >LA</text>
<text x="100.2" y="402" font-size="7.6" font-weight="normal" fill="#0000ff" text-anchor="start" >TA</text>
<text x="72.5" y="407.9" font-size="7.6" font-weight="normal" fill="#ff0000" text-anchor="start" >ZA</text>
<text x="362" y="243.5" font-size="12" font-weight="bold" fill="#000" text-anchor="start" >(d)</text>
<text x="364.7" y="413.0" font-size="10" font-weight="bold" fill="#000" text-anchor="start" >mono-TiB<tspan font-size="6.5" dy="2.2">4</tspan></text>
<text x="435.3" y="350.9" font-size="7.6" font-weight="normal" fill="#ff8000" text-anchor="start" >LA</text>
<text x="423.2" y="361.8" font-size="7.6" font-weight="normal" fill="#0000ff" text-anchor="start" >TA</text>
<text x="411.75" y="368.5" font-size="7.6" font-weight="normal" fill="#ff0000" text-anchor="start" >ZA</text>
</svg></body></html>
